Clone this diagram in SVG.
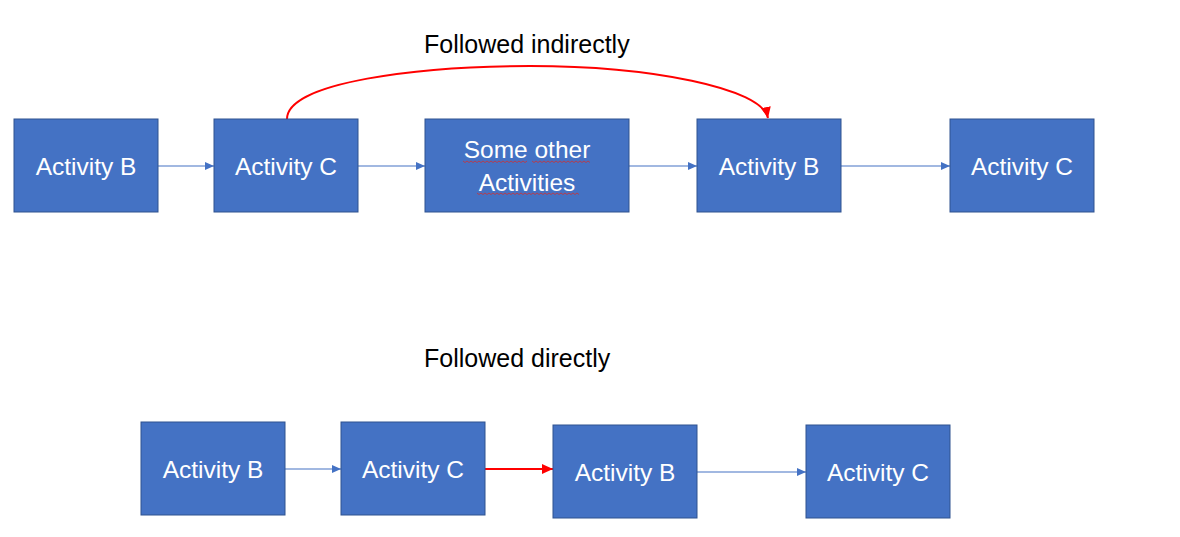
<svg xmlns="http://www.w3.org/2000/svg" width="1180" height="537" viewBox="0 0 1180 537">
<style>
.box{fill:#4472C4;stroke:#2F528F;stroke-width:1}
.lbl{font-family:"Liberation Sans",Arial,sans-serif;font-size:24.5px;fill:#FFFFFF;text-anchor:middle}
.ttl{font-family:"Liberation Sans",Arial,sans-serif;font-size:25px;fill:#000000}
.c{stroke:#4472C4;stroke-width:1.2;fill:none}
.r{stroke:#FF0000;stroke-width:2;fill:none}
.sq{stroke:#D03030;stroke-width:0.8;fill:none}
</style>
<defs>
<marker id="ab" markerWidth="10" markerHeight="10" refX="9" refY="5" orient="auto" markerUnits="userSpaceOnUse"><path d="M0,1 L9,5 L0,9 Z" fill="#4472C4"/></marker>
<marker id="ar" markerWidth="12" markerHeight="12" refX="11" refY="6" orient="auto" markerUnits="userSpaceOnUse"><path d="M0,1 L11,6 L0,11 Z" fill="#FF0000"/></marker>
</defs>
<rect width="1180" height="537" fill="#FFFFFF"/>
<text class="ttl" x="424" y="53">Followed indirectly</text>
<text class="ttl" x="424" y="367">Followed directly</text>
<g id="connectors">
<line class="c" x1="158" y1="166" x2="214" y2="166" marker-end="url(#ab)"/>
<line class="c" x1="358" y1="166" x2="425" y2="166" marker-end="url(#ab)"/>
<line class="c" x1="629" y1="166" x2="697" y2="166" marker-end="url(#ab)"/>
<line class="c" x1="841" y1="166" x2="950" y2="166" marker-end="url(#ab)"/>
<path class="r" d="M287,119 C287,82 420,66 530,66 C650,66 762,88 768,118" marker-end="url(#ar)"/>
<line class="c" x1="285" y1="469" x2="341" y2="469" marker-end="url(#ab)"/>
<line class="r" x1="485" y1="469" x2="553" y2="469" marker-end="url(#ar)"/>
<line class="c" x1="697" y1="472" x2="806" y2="472" marker-end="url(#ab)"/>
</g>
<g id="n1"><rect class="box" x="14" y="119" width="144" height="93"/><text class="lbl" x="86" y="175">Activity B</text></g>
<g id="n2"><rect class="box" x="214" y="119" width="144" height="93"/><text class="lbl" x="286" y="175">Activity C</text></g>
<g id="n3"><rect class="box" x="425" y="119" width="204" height="93"/><text class="lbl" x="527" y="158">Some other</text><text class="lbl" x="527" y="191">Activities</text>
<path class="sq" d="M463,161 l2,1.5 l2,-1.5 l2,1.5 l2,-1.5 l2,1.5 l2,-1.5 l2,1.5 l2,-1.5 l2,1.5 l2,-1.5 l2,1.5 l2,-1.5 l2,1.5 l2,-1.5 l2,1.5 l2,-1.5 l2,1.5 l2,-1.5 l2,1.5 l2,-1.5 l2,1.5 l2,-1.5 l2,1.5 l2,-1.5 l2,1.5 l2,-1.5 l2,1.5 l2,-1.5 l2,1.5 l2,-1.5 l2,1.5 l2,-1.5"/>
<path class="sq" d="M532,161 l2,1.5 l2,-1.5 l2,1.5 l2,-1.5 l2,1.5 l2,-1.5 l2,1.5 l2,-1.5 l2,1.5 l2,-1.5 l2,1.5 l2,-1.5 l2,1.5 l2,-1.5 l2,1.5 l2,-1.5 l2,1.5 l2,-1.5 l2,1.5 l2,-1.5 l2,1.5 l2,-1.5 l2,1.5 l2,-1.5 l2,1.5 l2,-1.5 l2,1.5 l2,-1.5 l2,1.5"/>
<path class="sq" d="M477,193 l2,1.5 l2,-1.5 l2,1.5 l2,-1.5 l2,1.5 l2,-1.5 l2,1.5 l2,-1.5 l2,1.5 l2,-1.5 l2,1.5 l2,-1.5 l2,1.5 l2,-1.5 l2,1.5 l2,-1.5 l2,1.5 l2,-1.5 l2,1.5 l2,-1.5 l2,1.5 l2,-1.5 l2,1.5 l2,-1.5 l2,1.5 l2,-1.5 l2,1.5 l2,-1.5 l2,1.5 l2,-1.5 l2,1.5 l2,-1.5 l2,1.5 l2,-1.5 l2,1.5 l2,-1.5 l2,1.5 l2,-1.5 l2,1.5 l2,-1.5 l2,1.5 l2,-1.5 l2,1.5 l2,-1.5 l2,1.5 l2,-1.5 l2,1.5 l2,-1.5 l2,1.5 l2,-1.5 l2,1.5"/>
</g>
<g id="n4"><rect class="box" x="697" y="119" width="144" height="93"/><text class="lbl" x="769" y="175">Activity B</text></g>
<g id="n5"><rect class="box" x="950" y="119" width="144" height="93"/><text class="lbl" x="1022" y="175">Activity C</text></g>
<g id="m1"><rect class="box" x="141" y="422" width="144" height="93"/><text class="lbl" x="213" y="478">Activity B</text></g>
<g id="m2"><rect class="box" x="341" y="422" width="144" height="93"/><text class="lbl" x="413" y="478">Activity C</text></g>
<g id="m3"><rect class="box" x="553" y="425" width="144" height="93"/><text class="lbl" x="625" y="481">Activity B</text></g>
<g id="m4"><rect class="box" x="806" y="425" width="144" height="93"/><text class="lbl" x="878" y="481">Activity C</text></g>
</svg>
